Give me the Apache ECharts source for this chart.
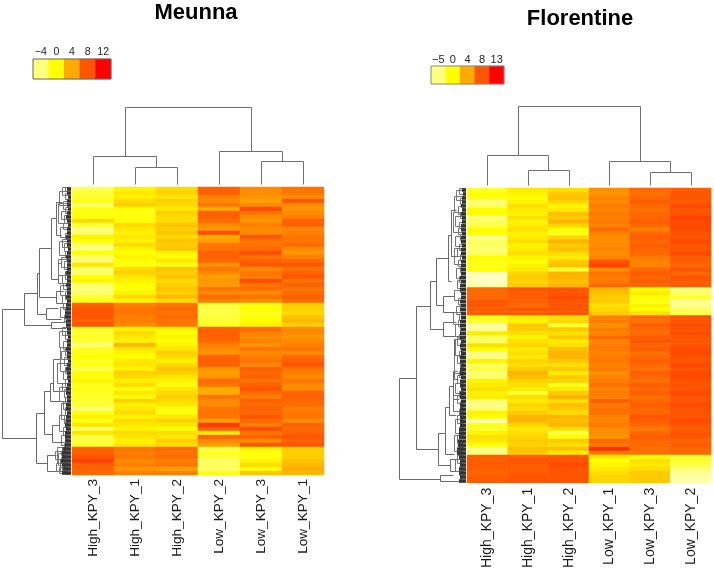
<!DOCTYPE html>
<html>
<head>
<meta charset="utf-8">
<title>Meunna / Florentine heatmaps</title>
<script src="https://cdn.jsdelivr.net/npm/echarts@6/dist/echarts.min.js"></script>
<style>
  html, body { margin: 0; padding: 0; background: #fff; }
  #chart { width: 714px; height: 571px; }
</style>
</head>
<body>
<div id="chart"></div>
<script>
// sample order along the x axis of each panel
const meunnaSamples = ['High_KPY_3', 'High_KPY_1', 'High_KPY_2', 'Low_KPY_2', 'Low_KPY_3', 'Low_KPY_1'];
const florentineSamples = ['High_KPY_3', 'High_KPY_1', 'High_KPY_2', 'Low_KPY_1', 'Low_KPY_3', 'Low_KPY_2'];

// colour key ticks
const meunnaKeyTicks = ['\u22124', '0', '4', '8', '12'];
const florentineKeyTicks = ['\u22125', '0', '4', '8', '13'];
const meunnaKeyValues = [-4, 0, 4, 8, 12];
const florentineKeyValues = [-5, 0, 4, 8, 13];

// Meunna expression, one array per sample, top row first
const meunnaHigh3 = [-2.5,-1.5,-1.5,-0.5,-3,-0.5,-0.5,-0.5,1.5,-1.5,-3.5,-3,0.5,0,-3,-3.5,0,-3,-3,1,-3,-3,0,0.5,-3,-3.5,-3,-1.5,-0.5,
  7,7.5,7.5,7.5,7,7.5,
  -1,-1.5,-1,-1.5,-3.5,-1,-0.5,0,-1,-0.5,-2.5,0,-0.5,0.5,-1,-0.5,-1,-1,-1.5,-1.5,-3.5,-0.5,0.5,-0.5,1,-2.5,1,-2,-2,-1,
  7,7,7.5,8.5,7,7,6.5];
const meunnaHigh1 = [0.5,1,0.5,1.5,2,0,-0.5,-0.5,0,1.5,1,0.5,1,0.5,1.5,0.5,0,0.5,0,-0.5,1.5,2,1,0.5,0,-0.5,0.5,1.5,0.5,
  5.5,6,6,5.5,5.5,5,
  0.5,1.5,1,0.5,3,1,0.5,0,1,1,0.5,2,1.5,0.5,1.5,0,1,0,2,0.5,1,1.5,0.5,1.5,1,0.5,1.5,1,0.5,1,
  6,5.5,6,5,5.5,4.5,5.5];
const meunnaHigh2 = [1.5,2,1,2,1.5,1,2,1.5,1.5,2.5,2,2.5,1.5,2.5,2,2.5,0.5,0,1,-0.5,2.5,2,2.5,1.5,2,2.5,2,3,1.5,
  6,6.5,6,6.5,6,6,
  0.5,0,0.5,0,0.5,1,2,1.5,0.5,1.5,2.5,2,1,0.5,-0.5,1,1.5,2,1.5,1,-0.5,-0.5,1,2,1,0,1.5,1,2,1.5,
  6.5,6,6.5,5.5,6,4,5.5];
const meunnaLow2 = [7,7,5.5,5,6,3.5,7,7,6.5,5,4.5,8,3.5,4,6,6,7,7,6.5,4.5,6,5,4,4.5,4,6,5,6.5,5.5,
  -1.5,-2,-2,-1.5,-1.5,-1,
  7,7,7,6.5,5.5,5,4.5,7,7,7,4.5,4,4.5,6.5,6,3.5,3.5,6,5,5,6,6,6,4,9,7,0.5,7,5,4,
  -2,-1,-1.5,-3,-2.5,-3,-0.5];
const meunnaLow3 = [5,5,4.5,4,5,8,6,5,4.5,5.5,5,5,7.5,6,6,6.5,8,6,7,7.5,5,6,5.5,8,6,6.5,5,6,5,
  -0.5,0,-1,0,0,0.5,
  6.5,5.5,5,5.5,4.5,6,5,5.5,6,5,7,6.5,7,6,7,7.5,6.5,5.5,7,6.5,7,6.5,7.5,6.5,5.5,8,6,7,5,7.5,
  0.5,-0.5,-0.5,0.5,1.5,0,2.5];
const meunnaLow1 = [6,6,5,7.5,5,4.5,5,5.5,7,7,5,5.5,6,6,6.5,5,4.5,5.5,6.5,7.5,6,7,7.5,6,7,6,6.5,7,6.5,
  2,2,1.5,2.5,3,2,
  5,5,4.5,5,5.5,6,5,6.5,7,7.5,6,5.5,5,6,5,5,7,7,6.5,6.5,5.5,6,6,5,7,6.5,7,7.5,7,7.5,
  2,2,2,2.5,3,3.5,3];

// Florentine expression, one array per sample, top row first
const florentineHigh3 = [-1.5,-0.5,-1,-3,-2.5,-0.5,-0.5,-3,-2.5,-2,-0.5,-0.5,-3.5,-2.5,-2.5,-3,-2.5,-0.5,-1,-1,-0.5,-4.5,-4.5,-4.5,-4,
  7,7,7,8,8,7.5,7.5,
  -1,-1.5,-4,-3.5,0.5,-2.5,-2.5,1,-0.5,-3.5,-3,0,-2.5,-2,-3,-2.5,0,0.5,1,0,0.5,-3,-3.5,-2.5,0,-0.5,-4.5,-1,-1.5,0,1,0.5,-0.5,-3.5,-3,
  7.5,7.5,7.5,7.5,7,7.5,7.5];
const florentineHigh1 = [0.5,0,-0.5,0,1,0.5,0,1,0,0.5,1,0,0.5,1,0,0.5,1,0,-0.5,0,0.5,1.5,2,1.5,2,
  8,7.5,7.5,7.5,7,8,7.5,
  0.5,0,2,2,1,0,1,1.5,0.5,1,0.5,1.5,1,2,3,2.5,1.5,1,0.5,-1.5,1,0.5,1.5,1,2,3,3,1.5,0.5,1,1.5,2,1.5,2.5,2,
  7.5,8,7.5,7.5,7.5,8,8];
const florentineHigh2 = [1,2,2.5,1.5,0,0.5,2.5,2,3,1.5,-0.5,-1,1.5,3,2,2.5,1,0.5,2,2.5,-1.5,3,3,2.5,3,
  8,8,8.5,8,8,8,8,
  1,1.5,-1.5,2,1,2,0.5,1,2.5,3,3,2,1,2,0.5,2,1.5,-1,0.5,2,3,1,2.5,2,1,3,2.5,3,1,-2,-0.5,2,1,2.5,0.5,
  8,8,8.5,8,8,8,8];
const florentineLow1 = [5,4.5,5.5,5,6,5.5,6,5.5,6,5.5,7,5.5,5,5,5,5.5,5,5.5,8,9,5,6.5,6,6,7,
  3,2.5,2,2,1,1.5,2,
  5.5,6,5,6,5.5,7,5.5,6,6,5.5,6,6,5.5,6,5,5.5,6,6.5,5.5,6,5.5,7.5,6,6.5,6.5,5.5,5.5,6,5,5,4.5,7,6,10,6,
  0.5,-0.5,0,0.5,1,1.5,1.5];
const florentineLow3 = [7,6.5,7,7.5,7,6.5,7,7,7.5,7,5.5,7,7.5,7,7.5,7,7,6,5.5,5.5,7,7.5,7,7.5,7,
  -0.5,0.5,-0.5,-1,0,-0.5,1,
  7,6.5,7.5,7,7,7.5,8,7,7.5,6.5,7,7.5,7,6.5,7.5,7,6.5,7.5,7,7.5,6.5,7,7.5,7,7,8,7.5,7,6,7,7.5,7,7,6.5,6.5,
  -0.5,1,0.5,1,2,2,2];
const florentineLow2 = [7.5,8,8,7.5,8.5,8,8,9,8.5,8.5,8.5,8,8,8.5,8,8,8.5,7.5,7.5,7,8,7,8,7.5,7.5,
  -3,-2.5,-1.5,-3.5,-3.5,-2.5,-2,
  8,8,8.5,8,8.5,8,8,8,8.5,8.5,8,8,8.5,8,8.5,8.5,8,8,8,8.5,8,8,8.5,8,8,8,8.5,8,7.5,8,8,7,7.5,7,7,
  -1.5,-1.5,-2,-3,-3.5,-4,-4];

// column dendrograms: [height, left leaf position, right leaf position, left child height, right child height]
const meunnaColTree = [[17,1.5,2.5,0,0],[23,4.5,5.5,0,0],[28,0.5,2,0,17],[33,3.5,5,0,23],[77,1.25,4.25,28,33]];
const florentineColTree = [[15,1.5,2.5,0,0],[13,4.5,5.5,0,0],[30,0.5,2,0,15],[24,3.5,5,0,13],[79,1.25,4.25,30,24]];

// row dendrograms, same layout with the height measured leftwards from the heatmap
const meunnaRowTree = [
  [69,30.4,62.7,47,35],[47,26.5,34.4,34.5,20],[34.5,21.5,31.7,32,25],[32,15.2,27.5,20.5,15],
  [20.5,7.7,23,15,13],[15,3.8,12,9,10],[13,19,24,10,8],[15,26,29,8,6],[25,30.3,33,13,10],[20,33.7,35.2,6,5],
  [35,56.4,69,27,24.5],[24.5,67,71,15,13],[27,51,61.7,21,19],[21,49,53.4,18,10],[19,59.5,63.8,12,7],[18,43,51,11,9]
];
const florentineRowTree = [
  [67.5,47.6,73,50,26],[26,72,73.5,13,6],[50,29.5,65.5,36,28],[36,23.4,35.25,30,23],[30,17.6,29.3,18.5,23.5],
  [18.5,11.8,23.4,15,15],[15,5.5,17,10,8],[23.5,27,31,12,10],[23,33.5,37,10,10],
  [28,61.5,69.5,21,16],[21,55,66.8,17,12],[17,49.7,57,13,10],[16,68,71,8,6],[12,38,48,10,8],[13,46,53,9,7]
];

// fine branches next to the heatmap: [height, top row, bottom row]
const meunnaBush = [
  [9,0,2],[6,0,1],[6,1.5,3],[12,1,4.5],[8,3.5,5.5],[6,5,6.5],[10,6,8],[7,7,9],[13,4,9],[8,9,10.5],[11,10,12.5],[6,11.5,13],
  [9,13,15],[7,14,16],[12,13.5,17],[6,16,17.5],[10,17.5,20],[7,18.5,20.5],[13,18,22],[6,21,23],[9,22,24],[8,24,25.5],
  [11,24.5,27],[6,26,28],[9,27,29],[8,29,30.5],[6,30,32],[11,30,32.5],[7,32,33.5],[5,33.5,35],[9,35,37],[6,36,38],
  [12,36,40],[8,38.5,40.5],[6,40,42],[10,41,43],[7,42.5,44.5],[11,40,46],[6,45,46.5],[8,46,48],[14,44,49],[6,48,50],
  [9,49,51],[7,50.5,52.5],[12,50,53.5],[6,52.5,54],[8,53.5,55.5],[6,55,57],[10,54,58],[7,57,59],[6,58.5,60],[12,57,61],
  [8,60,62],[6,61.5,63],[10,62,64.5],[7,64,66],[9,65,67],[14,65,69],[8,66.5,68],[11,68,71],[7,69,70.5],[9,70,71.5],
  [16,66,68],[13,66.5,69.5],[15,69,71],[12,70,71.5],[10,66,67],[10,67.5,69],[6,65.5,66.5],[6,67,68],[6,68.5,69.5],[6,70,71],[5,71,71.8]
];
const florentineBush = [
  [7,0,1.5],[10,0.5,3],[6,2.5,4],[12,2,6],[8,4.5,6.5],[6,6,7.5],[11,7,9.5],[7,8.5,10],[13,6,11],[8,10,11.5],[6,11.5,13],
  [11,12,14.5],[7,14,15.5],[9,15,17],[6,16.5,18],[12,15,19],[8,18,19.5],[6,19.5,21],[10,20,22.5],[7,22,23.5],[9,23,25],
  [6,25,26],[12,25.5,28],[8,27.5,29],[6,29,30],[10,29.5,31.5],[7,31.5,33],[13,31,34],[8,33,34.5],[6,34.5,36],[11,34,37],
  [7,36.5,38],[9,37.5,39.5],[6,39,40.5],[11,38,42],[7,41,42.5],[9,42,44],[6,43.5,45],[12,42,46.5],[7,46,47.5],[9,47,49],
  [6,48.5,50],[11,49,51.5],[7,51,52.5],[9,52,54],[6,53.5,55],[13,52,56],[7,55.5,57],[9,57,59],[6,58.5,60],[11,58,61.5],
  [7,61,62.5],[9,62,64],[6,63.5,65],[12,62,66],[7,65,66.5],[5,66.5,67.5],[9,67,69],[6,68.5,70],[11,68,71],[7,70.5,72],[5,72,73.5]
];

// length of the dense leaf comb, one value per row
const meunnaLeaves = [4,4,3,4,4,3,4,5,4,3,4,4,5,4,4,3,4,5,4,4,4,5,4,4,5,4,4,5,4,5,5,6,6,5,5,4,4,3,4,4,5,4,4,3,4,5,4,4,3,4,5,5,4,4,5,5,4,5,5,6,5,6,6,6,6,8,9,9,10,9,8,9];
const florentineLeaves = [4,3,4,4,5,4,5,4,4,5,5,4,5,5,4,5,5,4,5,5,5,5,6,5,6,6,5,5,6,5,6,5,5,6,6,5,6,6,5,6,5,5,6,6,5,6,6,5,6,6,5,6,6,5,6,6,6,6,6,6,7,7,7,8,8,9,9,7,6,6,7,7,6,7];

const meunnaRows = meunnaHigh3.length;
const florentineRows = florentineHigh3.length;
const labelFont = 'Liberation Sans';

function heatData(columns) {
  let out = [];
  columns.forEach((col, x) => {
    col.forEach((v, y) => out.push([x, y, v]));
  });
  return out;
}

// one forked branch of a dendrogram, in pixels snapped to the grid so lines stay thin
function forkRender(horizontal, color) {
  return function (params, api) {
    const h = api.value(0), a = api.value(1), b = api.value(2), ha = api.value(3), hb = api.value(4);
    const pt = (pos, height) => {
      const c = horizontal ? api.coord([height, pos]) : api.coord([pos, height]);
      return [Math.round(c[0]) + 0.5, Math.round(c[1]) + 0.5];
    };
    return {
      type: 'polyline',
      shape: { points: [pt(a, ha), pt(a, h), pt(b, h), pt(b, hb)] },
      style: { stroke: color, fill: null, lineWidth: 1 }
    };
  };
}

function leafRender(params, api) {
  const from = api.coord([0, api.value(1) + 0.5]);
  const to = api.coord([api.value(0), api.value(1) + 0.5]);
  return {
    type: 'line',
    shape: { x1: from[0], y1: from[1], x2: to[0], y2: to[1] },
    style: { stroke: '#333', lineWidth: 3.6 }
  };
}

function customSeries(xi, render, data) {
  return { type: 'custom', xAxisIndex: xi, yAxisIndex: xi, renderItem: render, data: data, clip: false, silent: true, animation: false };
}

const hiddenValue = (min, max, inverse) => ({ type: 'value', show: false, min: min, max: max, inverse: !!inverse });

const option = {
  animation: false,
  backgroundColor: '#fff',
  textStyle: { fontFamily: labelFont },
  title: [
    { text: 'Meunna', left: 191, top: -3, textAlign: 'center', textStyle: { fontFamily: labelFont, fontWeight: 'bold', fontSize: 22, color: '#000' } },
    { text: 'Florentine', left: 575, top: 3, textAlign: 'center', textStyle: { fontFamily: labelFont, fontWeight: 'bold', fontSize: 22, color: '#000' } }
  ],
  grid: [
    { left: 72, top: 187, width: 252, height: 288 },                 // 0 Meunna heatmap
    { left: 467, top: 188, width: 244, height: 295 },                // 1 Florentine heatmap
    { left: 33, top: 59, width: 78, height: 20, show: true, z: 5, backgroundColor: 'transparent', borderColor: '#666', borderWidth: 1 },   // 2 Meunna key
    { left: 431, top: 66, width: 73, height: 18, show: true, z: 5, backgroundColor: 'transparent', borderColor: '#888', borderWidth: 1 },  // 3 Florentine key
    { left: 72, top: 107, width: 252, height: 77 },                  // 4 Meunna column tree
    { left: 467, top: 106, width: 244, height: 79 },                 // 5 Florentine column tree
    { left: 0, top: 187, width: 71, height: 288 },                   // 6 Meunna row tree
    { left: 391, top: 188, width: 75, height: 295 }                  // 7 Florentine row tree
  ],
  xAxis: [
    { type: 'category', gridIndex: 0, data: meunnaSamples, axisLine: { show: false }, axisTick: { show: false }, splitLine: { show: false },
      axisLabel: { rotate: 90, margin: 4, fontSize: 13.6, color: '#1a1a1a', fontFamily: labelFont, interval: 0 } },
    { type: 'category', gridIndex: 1, data: florentineSamples, axisLine: { show: false }, axisTick: { show: false }, splitLine: { show: false },
      axisLabel: { rotate: 90, margin: 5, fontSize: 14, color: '#1a1a1a', fontFamily: labelFont, interval: 0 } },
    { type: 'category', gridIndex: 2, position: 'top', data: meunnaKeyTicks, axisLine: { show: false }, axisTick: { show: false }, splitLine: { show: false },
      axisLabel: { margin: 1, fontSize: 10.5, color: '#222', fontFamily: labelFont, interval: 0 } },
    { type: 'category', gridIndex: 3, position: 'top', data: florentineKeyTicks, axisLine: { show: false }, axisTick: { show: false }, splitLine: { show: false },
      axisLabel: { margin: 1, fontSize: 11, color: '#222', fontFamily: labelFont, interval: 0 } },
    Object.assign(hiddenValue(0, 6), { gridIndex: 4 }),
    Object.assign(hiddenValue(0, 6), { gridIndex: 5 }),
    Object.assign(hiddenValue(0, 71, true), { gridIndex: 6 }),
    Object.assign(hiddenValue(0, 75, true), { gridIndex: 7 })
  ],
  yAxis: [
    { type: 'category', gridIndex: 0, inverse: true, show: false, data: meunnaHigh3.map((v, i) => i) },
    { type: 'category', gridIndex: 1, inverse: true, show: false, data: florentineHigh3.map((v, i) => i) },
    { type: 'category', gridIndex: 2, show: false, data: ['key'] },
    { type: 'category', gridIndex: 3, show: false, data: ['key'] },
    Object.assign(hiddenValue(0, 77), { gridIndex: 4 }),
    Object.assign(hiddenValue(0, 79), { gridIndex: 5 }),
    Object.assign(hiddenValue(0, meunnaRows, true), { gridIndex: 6 }),
    Object.assign(hiddenValue(0, florentineRows, true), { gridIndex: 7 })
  ],
  visualMap: [
    { type: 'continuous', show: false, seriesIndex: 0, dimension: 2, min: -4, max: 12, inRange: { color: ['#FFFF90', '#FFFF00', '#FFA000', '#FF4A00', '#FF0000'] } },
    { type: 'continuous', show: false, seriesIndex: 1, dimension: 2, min: -5, max: 13, inRange: { color: ['#FFFFD8', '#FFFF00', '#FFA000', '#FF4A00', '#FF0000'] } },
    { type: 'piecewise', show: false, seriesIndex: [2, 3], dimension: 2, pieces: [
      { value: -5, color: '#FFFF80' }, { value: -4, color: '#FFFF80' }, { value: 0, color: '#FFFF00' }, { value: 4, color: '#FFAA00' },
      { value: 8, color: '#FF5500' }, { value: 12, color: '#FF0000' }, { value: 13, color: '#FF0000' }
    ] }
  ],
  series: [
    { type: 'heatmap', xAxisIndex: 0, yAxisIndex: 0, silent: true, progressive: 0,
      data: heatData([meunnaHigh3, meunnaHigh1, meunnaHigh2, meunnaLow2, meunnaLow3, meunnaLow1]) },
    { type: 'heatmap', xAxisIndex: 1, yAxisIndex: 1, silent: true, progressive: 0,
      data: heatData([florentineHigh3, florentineHigh1, florentineHigh2, florentineLow1, florentineLow3, florentineLow2]) },
    { type: 'heatmap', xAxisIndex: 2, yAxisIndex: 2, silent: true, data: meunnaKeyValues.map((v, i) => [i, 0, v]) },
    { type: 'heatmap', xAxisIndex: 3, yAxisIndex: 3, silent: true, data: florentineKeyValues.map((v, i) => [i, 0, v]) },
    customSeries(4, forkRender(false, '#707070'), meunnaColTree),
    customSeries(5, forkRender(false, '#707070'), florentineColTree),
    customSeries(6, forkRender(true, '#6a6a6a'), meunnaRowTree),
    customSeries(7, forkRender(true, '#6a6a6a'), florentineRowTree),
    customSeries(6, forkRender(true, '#777'), meunnaBush.map(d => [d[0], d[1], d[2], 3, 3])),
    customSeries(7, forkRender(true, '#777'), florentineBush.map(d => [d[0], d[1], d[2], 3, 3])),
    customSeries(6, leafRender, meunnaLeaves.map((v, i) => [v, i])),
    customSeries(7, leafRender, florentineLeaves.map((v, i) => [v, i]))
  ]
};

const myChart = echarts.init(document.getElementById('chart'), null, { renderer: 'canvas' });
myChart.setOption(option);
</script>
</body>
</html>
